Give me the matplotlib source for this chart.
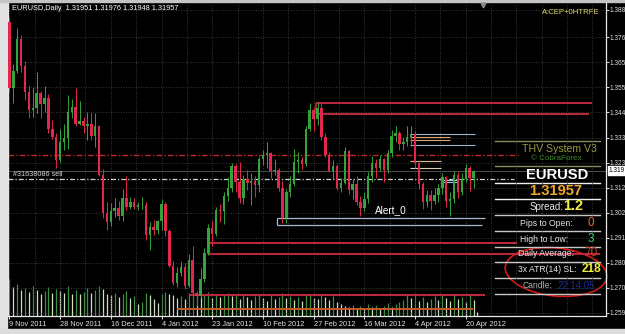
import matplotlib
matplotlib.use("Agg")
import matplotlib.pyplot as plt
from matplotlib.patches import Ellipse, Rectangle
from matplotlib.lines import Line2D

plt.rcParams["font.family"] = ["Liberation Sans", "DejaVu Sans"]

# EURUSD daily bars, 8 Nov 2011 .. 25 Apr 2012 (bar index = position on chart)
opens = [1.3775, 1.3825, 1.3545, 1.3620, 1.3755, 1.3640, 1.3530, 1.3455, 1.3460, 1.3525,
         1.3480, 1.3505, 1.3375, 1.3340, 1.3240, 1.3320, 1.3335, 1.3445, 1.3465, 1.3395,
         1.3405, 1.3385, 1.3395, 1.3345, 1.3385, 1.3180, 1.3020, 1.2980, 1.3025, 1.3040,
         1.3005, 1.3080, 1.3045, 1.3065, 1.3045, 1.3050, 1.3052, 1.2925, 1.2960, 1.2945,
         1.2985, 1.3055, 1.2940, 1.2795, 1.2720, 1.2765, 1.2790, 1.2710, 1.2820, 1.2680,
         1.2665, 1.2740, 1.2850, 1.2955, 1.2930, 1.3030, 1.3025, 1.3090, 1.3125, 1.3215,
         1.3150, 1.3080, 1.3160, 1.3145, 1.3155, 1.3135, 1.3245, 1.3265, 1.3270, 1.3195,
         1.3200, 1.3125, 1.2995, 1.3105, 1.3140, 1.3235, 1.3240, 1.3225, 1.3375, 1.3455,
         1.3415, 1.3460, 1.3340, 1.3265, 1.3195, 1.3215, 1.3125, 1.3145, 1.3280, 1.3115,
         1.3140, 1.3065, 1.3040, 1.3075, 1.3175, 1.3230, 1.3210, 1.3245, 1.3200, 1.3270,
         1.3345, 1.3355, 1.3310, 1.3320, 1.3340, 1.3350, 1.3230, 1.3140, 1.3065, 1.3095,
         1.3070, 1.3095, 1.3125, 1.3170, 1.3070, 1.3075, 1.3180, 1.3105, 1.3160, 1.3210,
         1.3165, 1.31951]
highs = [1.3835, 1.3845, 1.3650, 1.3800, 1.3770, 1.3660, 1.3560, 1.3550, 1.3615, 1.3535,
         1.3555, 1.3520, 1.3410, 1.3355, 1.3375, 1.3395, 1.3515, 1.3500, 1.3545, 1.3490,
         1.3425, 1.3445, 1.3440, 1.3440, 1.3390, 1.3205, 1.3065, 1.3060, 1.3080, 1.3070,
         1.3120, 1.3175, 1.3085, 1.3080, 1.3065, 1.3085, 1.3065, 1.2980, 1.2990, 1.2990,
         1.3075, 1.3065, 1.2950, 1.2815, 1.2790, 1.2815, 1.2805, 1.2845, 1.2880, 1.2690,
         1.2785, 1.2870, 1.2970, 1.2985, 1.3045, 1.3055, 1.3105, 1.3170, 1.3230, 1.3225,
         1.3235, 1.3180, 1.3200, 1.3185, 1.3175, 1.3255, 1.3285, 1.3320, 1.3275, 1.3245,
         1.3210, 1.3155, 1.3120, 1.3175, 1.3290, 1.3275, 1.3255, 1.3385, 1.3485, 1.3465,
         1.3485, 1.3487, 1.3355, 1.3275, 1.3240, 1.3225, 1.3165, 1.3295, 1.3285, 1.3160,
         1.3175, 1.3090, 1.3105, 1.3190, 1.3260, 1.3245, 1.3265, 1.3250, 1.3285, 1.3370,
         1.3385, 1.3365, 1.3340, 1.3385, 1.3385, 1.3365, 1.3240, 1.3150, 1.3115, 1.3115,
         1.3125, 1.3140, 1.3185, 1.3175, 1.3105, 1.3195, 1.3190, 1.3185, 1.3225, 1.3215,
         1.3200, 1.31976]
lows = [1.3745, 1.3530, 1.3485, 1.3610, 1.3615, 1.3495, 1.3420, 1.3425, 1.3440, 1.3420,
        1.3445, 1.3355, 1.3330, 1.3210, 1.3235, 1.3285, 1.3290, 1.3420, 1.3385, 1.3390,
        1.3355, 1.3325, 1.3325, 1.3295, 1.3175, 1.2995, 1.2945, 1.2965, 1.3000, 1.2990,
        1.2985, 1.3030, 1.3035, 1.3035, 1.3030, 1.3035, 1.2905, 1.2860, 1.2925, 1.2930,
        1.2945, 1.2920, 1.2790, 1.2715, 1.2705, 1.2750, 1.2695, 1.2705, 1.2625, 1.2625,
        1.2660, 1.2725, 1.2840, 1.2880, 1.2920, 1.2980, 1.2970, 1.3070, 1.3105, 1.3105,
        1.3060, 1.3055, 1.3115, 1.3050, 1.3085, 1.3105, 1.3220, 1.3210, 1.3165, 1.3180,
        1.3110, 1.2975, 1.2975, 1.3085, 1.3130, 1.3185, 1.3205, 1.3215, 1.3365, 1.3365,
        1.3390, 1.3325, 1.3255, 1.3190, 1.3160, 1.3115, 1.3105, 1.3140, 1.3100, 1.3075,
        1.3050, 1.3005, 1.3025, 1.3060, 1.3150, 1.3165, 1.3195, 1.3150, 1.3185, 1.3255,
        1.3320, 1.3285, 1.3285, 1.3300, 1.3300, 1.3210, 1.3120, 1.3035, 1.3045, 1.3030,
        1.3055, 1.3065, 1.3100, 1.3045, 1.3005, 1.3060, 1.3080, 1.3095, 1.3150, 1.3110,
        1.3125, 1.31948]
closes = [1.3825, 1.3545, 1.3620, 1.3755, 1.3640, 1.3530, 1.3455, 1.3460, 1.3525, 1.3480,
          1.3505, 1.3375, 1.3340, 1.3240, 1.3320, 1.3335, 1.3445, 1.3465, 1.3395, 1.3405,
          1.3385, 1.3395, 1.3345, 1.3385, 1.3180, 1.3020, 1.2980, 1.3025, 1.3040, 1.3005,
          1.3080, 1.3045, 1.3065, 1.3045, 1.3050, 1.3052, 1.2925, 1.2960, 1.2945, 1.2985,
          1.3055, 1.2940, 1.2795, 1.2720, 1.2765, 1.2790, 1.2710, 1.2820, 1.2680, 1.2665,
          1.2740, 1.2850, 1.2955, 1.2930, 1.3030, 1.3025, 1.3090, 1.3125, 1.3215, 1.3150,
          1.3080, 1.3160, 1.3145, 1.3155, 1.3135, 1.3245, 1.3265, 1.3270, 1.3195, 1.3200,
          1.3125, 1.2995, 1.3105, 1.3140, 1.3235, 1.3240, 1.3225, 1.3375, 1.3455, 1.3415,
          1.3460, 1.3340, 1.3265, 1.3195, 1.3215, 1.3125, 1.3145, 1.3280, 1.3115, 1.3140,
          1.3065, 1.3040, 1.3075, 1.3175, 1.3230, 1.3210, 1.3245, 1.3200, 1.3270, 1.3345,
          1.3355, 1.3310, 1.3320, 1.3340, 1.3350, 1.3230, 1.3140, 1.3065, 1.3095, 1.3070,
          1.3095, 1.3125, 1.3170, 1.3070, 1.3075, 1.3180, 1.3105, 1.3160, 1.3210, 1.3165,
          1.3195, 1.31957]
# tick volume (thousands)
volumes = [30, 38, 30, 33, 27, 29, 25, 31, 27, 22, 26, 30, 24, 28, 26, 24, 31, 22, 27, 23,
           25, 29, 24, 27, 31, 28, 23, 21, 24, 19, 22, 26, 18, 20, 12, 14, 24, 21, 17, 13,
           22, 25, 23, 21, 18, 20, 17, 24, 28, 22, 20, 23, 25, 18, 22, 19, 21, 24, 20, 22,
           17, 21, 19, 16, 20, 23, 18, 15, 21, 17, 19, 24, 18, 20, 16, 19, 15, 21, 23, 18,
           17, 22, 19, 16, 20, 14, 12, 10, 9, 11, 8, 10, 7, 12, 9, 11, 8, 10, 13, 9,
           12, 14, 16, 21, 18, 22, 15, 19, 14, 17, 20, 16, 23, 18, 15, 21, 17, 19, 14, 22,
           16, 4]

date_ticks = [1, 14, 27, 40, 53, 66, 79, 92, 105, 118]
date_labels = ["9 Nov 2011", "28 Nov 2011", "16 Dec 2011", "4 Jan 2012", "23 Jan 2012",
               "10 Feb 2012", "27 Feb 2012", "16 Mar 2012", "4 Apr 2012", "20 Apr 2012"]
price_ticks = [1.2595, 1.2701, 1.2807, 1.2913, 1.3019, 1.3125, 1.3231, 1.3337, 1.3443,
               1.3549, 1.3655, 1.3761, 1.3877]
price_labels = ["1.259", "1.270", "1.280", "1.291", "1.302", "1.312", "1.323",
                "1.333", "1.344", "1.355", "1.365", "1.376", "1.388"]

# drawn objects: level, start bar, end bar
red_levels = [1.3483, 1.3437, 1.2891, 1.2844, 1.2669]
red_start = [79.6, 79.6, 51.9, 51.9, 47.3]
red_end = [150.4, 149.6, 131.2, 152.4, 122.9]
orange_level, orange_start, orange_end = 1.2614, 44.0, 119.9
blue_levels = [1.2997, 1.2967]
blue_start = [69.6, 69.6]
blue_end = [122.9, 122.2]
fibo_levels = [1.3352, 1.3339, 1.3327, 1.3306, 1.3238, 1.3209, 1.3158, 1.3147]
fibo_start = [103.7, 103.7, 103.7, 103.7, 103.7, 103.7, 112.2, 112.2]
fibo_end = [120.4, 114.0, 114.0, 120.4, 111.7, 111.7, 116.0, 116.0]
fibo_colors = ["#9fb0c8", "#d4a870", "#d4a870", "#9fb0c8", "#e0c090", "#d8d0b0",
               "#a0c8e0", "#a0c8e0"]
red_dash_level = 1.3263
order_level = 1.3162
bid = 1.31957

W, H = 625, 334
fig = plt.figure(figsize=(W / 100, H / 100), dpi=100, facecolor="black")


def fx(px):
    return px / W


def fy(py):
    return 1 - py / H


# window frame strips
fig.add_artist(Rectangle((0, 0), fx(7), 1, transform=fig.transFigure, color="#e2e2e2", zorder=0))
fig.add_artist(Rectangle((0, 0), 1, 5 / H, transform=fig.transFigure, color="#dcdcdc", zorder=0))
fig.add_artist(Rectangle((0, fy(2)), 1, 2 / H, transform=fig.transFigure, color="#c4c4c4", zorder=0))

ax = fig.add_axes([fx(8), fy(316), (606 - 8) / W, (316 - 3) / H])
ax2 = ax.twinx()
ax2.set_zorder(1)
ax.set_zorder(2)
ax.patch.set_visible(False)
ax2.patch.set_visible(False)

x = list(range(len(closes)))
ax.set_xlim(0.641, 153.97)
ax.set_ylim(1.25823, 1.3906)

# volumes
vol_colors = ["#3f8f3f" if i > 0 and volumes[i] > volumes[i - 1] else "#cfdcc8"
              for i in range(len(volumes))]
ax2.vlines(x, 0, volumes, colors=vol_colors, lw=0.9)
ax2.set_ylim(0, 320)
ax2.axis("off")

# grid
ax.set_xticks(date_ticks)
ax.set_xticklabels(date_labels, ha="left")
ax.set_xticks([1 + 6.5 * k for k in range(24)], minor=True)
ax.set_yticks(price_ticks)
ax.set_yticklabels(price_labels)
ax.grid(True, which="both", axis="x", color="#4a4a4a", ls=(0, (1, 2)), lw=0.6)
ax.grid(True, which="major", axis="y", color="#4a4a4a", ls=(0, (1, 2)), lw=0.6)
ax.set_axisbelow(True)
ax.yaxis.tick_right()
ax.tick_params(axis="y", colors="#e0e0e0", length=2.0, width=0.7, pad=0.5, labelsize=4.7)
ax.tick_params(axis="x", which="major", colors="#e0e0e0", length=2.2, width=0.7, pad=1.2,
               labelsize=5.3)
ax.tick_params(axis="x", which="minor", length=0)
for s in ["left", "bottom", "right"]:
    ax.spines[s].set_color("#e8e8e8")
    ax.spines[s].set_linewidth(0.9)
ax.spines["top"].set_visible(False)

# horizontal objects
ax.axhline(bid, color="#5a5a5a", lw=0.6, zorder=1)
ax.hlines(red_dash_level, 0.641, 131.4, colors="#c02828", lw=1.0, ls=(0, (4, 1.6, 1, 1.6)))
ax.hlines(order_level, 0.641, 130.4, colors="#c8d4c8", lw=0.9, ls=(0, (4, 1.6, 1, 1.6)))
ax.hlines(red_levels, red_start, red_end, colors="#b8283a", lw=1.5)
ax.vlines([red_start[0], red_start[2]], [red_levels[1], red_levels[3]],
          [red_levels[0], red_levels[2]], colors="#b8283a", lw=1.3)
ax.hlines(orange_level, orange_start, orange_end, colors="#c8582c", lw=1.4)
ax.hlines(blue_levels, blue_start, blue_end, colors="#a8b8d0", lw=0.9)
ax.vlines(blue_start[0], blue_levels[1], blue_levels[0], colors="#a8b8d0", lw=0.9)
ax.hlines(fibo_levels, fibo_start, fibo_end, colors=fibo_colors, lw=0.8)

# candles
up = "#33a33a"
down = "#e2264f"
cols = [up if c >= o else down for o, c in zip(opens, closes)]
ax.vlines(x, lows, highs, colors=cols, lw=0.7, zorder=3)
ax.bar(x, [max(abs(c - o), 0.0002) for o, c in zip(opens, closes)], width=0.62,
       bottom=[min(o, c) for o, c in zip(opens, closes)], color=cols, zorder=4)

# current price label
ax.text(1.005, bid, "1.319", transform=ax.get_yaxis_transform(), fontsize=4.7,
        color="black", va="center", ha="left", clip_on=False,
        bbox=dict(boxstyle="square,pad=0.15", fc="white", ec="white"))
ax.plot([0.794], [0.994], marker="v", ms=3.5, color="#8a8a8a", transform=ax.transAxes,
        clip_on=False)

# texts on chart
fig.text(fx(12), fy(9), "EURUSD,Daily  1.31951 1.31976 1.31948 1.31957", color="white",
         fontsize=5.3, va="center", ha="left")
fig.text(fx(600), fy(13), "A:CEP+0HTRFE", color="#dede6a", fontsize=5.6, va="center", ha="right")
fig.text(fx(13), fy(175), "#31638086 sell", color="#d8d8d8", fontsize=5.2, va="center")
fig.text(fx(375), fy(210), "Alert_0", color="white", fontsize=7.2, va="center")

# info panel
for py, c in [(141, "#8a8a66"), (166, "#8a8a66"), (183, "#f0f0f0"), (199, "#f0f0f0"),
              (215, "#c8c8c8"), (231, "#c8c8c8"), (247, "#c8c8c8"), (262, "#c8c8c8"),
              (278, "#c8c8c8"), (294, "#c8c8c8")]:
    fig.add_artist(Line2D([fx(495), fx(600)], [fy(py), fy(py)], color=c, lw=1.0,
                          transform=fig.transFigure))
fig.text(fx(559), fy(149), "THV System V3", color="#9a9a48", fontsize=7.6, ha="center", va="center")
fig.text(fx(556), fy(158), "\u00a9 CobraForex", color="#3c8c28", fontsize=5.8, ha="center", va="center")
fig.text(fx(557), fy(175), "EURUSD", color="white", fontsize=10.6, fontweight="bold",
         ha="center", va="center")
fig.text(fx(556), fy(191), "1.31957", color="#f0a830", fontsize=10.6, fontweight="bold",
         ha="center", va="center")
fig.text(fx(563), fy(207), "Spread:", color="#e8e8e8", fontsize=7, ha="right", va="center")
fig.text(fx(563), fy(206), "1.2", color="#f4f040", fontsize=10.4, fontweight="bold",
         ha="left", va="center")
rows = [(223, "Pips to Open:", "0", "#ff5a28", 546),
        (239, "High to Low:", "3", "#30d070", 544),
        (254, "Daily Average:", "70", "#c83a24", 546),
        (270, "3x ATR(14) SL:", "218", "#f0f040", 547)]
for py, lab, val, vc, cx in rows:
    fig.text(fx(cx), fy(py), lab, color="#e8e8e8", fontsize=6.2, ha="center", va="center")
    fig.text(fx(591), fy(py - 0.5), val, color=vc, fontsize=8.5,
             fontweight="bold" if val == "218" else "normal", ha="center", va="center")
fig.text(fx(538), fy(286), "Candle:", color="#b0b0b0", fontsize=6.2, ha="center", va="center")
fig.text(fx(558), fy(286), "22:14:05", color="#1c2a9c", fontsize=7, ha="left", va="center")

# hand drawn ring
fig.add_artist(Ellipse((5.56, 0.62), 1.02, 0.48, angle=-6, transform=fig.dpi_scale_trans,
                       fill=False, ec="#d81818", lw=1.2))

fig.savefig("out.png", dpi=100, facecolor="black")
